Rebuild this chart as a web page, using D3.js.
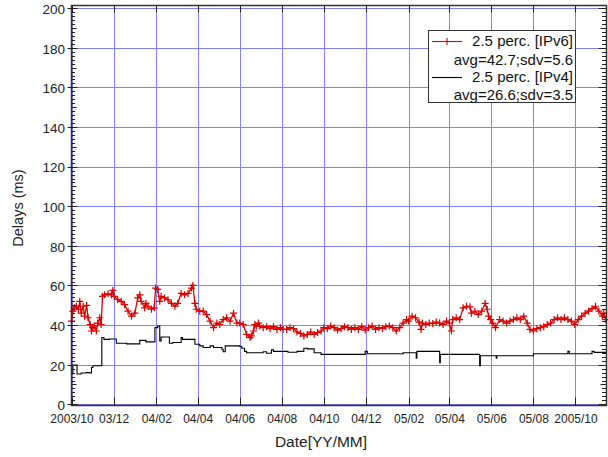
<!DOCTYPE html>
<html><head><meta charset="utf-8">
<script src="https://cdn.jsdelivr.net/npm/d3@7"></script>
<style>body{margin:0;background:#fff;}svg{display:block;font-family:"Liberation Sans",Arial,sans-serif;}</style>
</head><body>
<svg id="c" width="608" height="457"></svg>
<script>
// ---- data ----
const xTickLabels = ["2003/10","03/12","04/02","04/04","04/06","04/08","04/10","04/12","05/02","05/04","05/06","05/08","2005/10"];
const yTickValues = [0,20,40,60,80,100,120,140,160,180,200];
const legendLabels = ["2.5 perc. [IPv6]","avg=42.7;sdv=5.6","2.5 perc. [IPv4]","avg=26.6;sdv=3.5"];

const ipv6Dates = ["2003-10-01","2003-10-03","2003-10-05","2003-10-08","2003-10-11","2003-10-13","2003-10-15","2003-10-18","2003-10-20","2003-10-23","2003-10-25","2003-10-28","2003-10-30","2003-11-01","2003-11-03","2003-11-06","2003-11-08","2003-11-11","2003-11-13","2003-11-15","2003-11-18","2003-11-23","2003-11-28","2003-11-30","2003-12-02","2003-12-07","2003-12-12","2003-12-17","2003-12-22","2003-12-27","2004-01-01","2004-01-05","2004-01-08","2004-01-10","2004-01-15","2004-01-17","2004-01-20","2004-01-25","2004-01-29","2004-01-31","2004-02-03","2004-02-06","2004-02-08","2004-02-13","2004-02-18","2004-02-23","2004-02-28","2004-03-03","2004-03-08","2004-03-13","2004-03-18","2004-03-23","2004-03-25","2004-03-28","2004-03-30","2004-04-04","2004-04-09","2004-04-14","2004-04-19","2004-04-24","2004-04-29","2004-05-03","2004-05-08","2004-05-13","2004-05-18","2004-05-23","2004-05-28","2004-06-01","2004-06-06","2004-06-11","2004-06-16","2004-06-18","2004-06-21","2004-06-23","2004-06-25","2004-06-28","2004-06-30","2004-07-05","2004-07-10","2004-07-15","2004-07-20","2004-07-25","2004-07-30","2004-08-03","2004-08-08","2004-08-13","2004-08-18","2004-08-23","2004-08-28","2004-09-02","2004-09-07","2004-09-12","2004-09-17","2004-09-22","2004-09-27","2004-10-01","2004-10-06","2004-10-11","2004-10-16","2004-10-21","2004-10-26","2004-10-31","2004-11-05","2004-11-10","2004-11-15","2004-11-20","2004-11-25","2004-11-30","2004-12-05","2004-12-10","2004-12-15","2004-12-20","2004-12-25","2004-12-30","2005-01-04","2005-01-09","2005-01-14","2005-01-19","2005-01-24","2005-01-29","2005-02-01","2005-02-06","2005-02-11","2005-02-16","2005-02-19","2005-02-21","2005-02-26","2005-03-03","2005-03-08","2005-03-13","2005-03-18","2005-03-23","2005-03-28","2005-04-01","2005-04-04","2005-04-06","2005-04-11","2005-04-16","2005-04-21","2005-04-26","2005-05-01","2005-05-03","2005-05-08","2005-05-13","2005-05-18","2005-05-23","2005-05-26","2005-05-28","2005-05-31","2005-06-03","2005-06-07","2005-06-13","2005-06-18","2005-06-23","2005-06-28","2005-07-03","2005-07-08","2005-07-13","2005-07-18","2005-07-23","2005-07-27","2005-08-01","2005-08-06","2005-08-11","2005-08-16","2005-08-21","2005-08-26","2005-08-31","2005-09-05","2005-09-10","2005-09-15","2005-09-20","2005-09-25","2005-09-30","2005-10-05","2005-10-10","2005-10-15","2005-10-20","2005-10-25","2005-10-30","2005-11-04","2005-11-09","2005-11-11","2005-11-14"];
const ipv6Values = [42,47,48.7,49.5,48,52,46,49.5,44.5,50,43.7,40.3,37,38.7,39.5,37,41,43.7,40.3,54.5,55.3,55.8,55.3,57.5,54.5,52.8,52,50.3,47,44.5,46,53.7,55.3,52,48.7,51,49.5,48,48.7,58.7,58,52,54.5,53.7,52.8,51,49.5,51,56,55.3,56,58.7,60,51,48,47,47,45.3,42,38.7,41,40.3,42.8,43.7,42,46,41,41,40.3,35.3,33.7,34.5,37,40.3,39.5,41,39.5,38.7,39.2,38.2,39.2,37.8,38.7,37.8,37.8,38.7,38.2,36.5,35.8,34.5,35.3,36.5,35.3,36.2,37,38.7,38.2,39.5,38.7,37.5,38.2,39.2,38.7,37.8,38.7,37.8,39.2,37.5,38.7,39.5,37.8,38.7,38.2,39.2,39.5,38.7,37,38.7,41,42.8,42,44.5,43.7,41.5,37.8,41,40.3,41,40.8,41.5,41,40.3,42,41,37,42.8,43.7,42.8,48.7,49.5,49.2,46,47,45.3,47,51,48,44.5,42.8,41,38.7,42.8,42,41,42,42.8,43.7,42.8,44.5,41,37.8,37,38.2,38.7,39.2,40.3,41,42.8,43.7,42.8,43.7,42.8,42,40.3,42.8,44.5,46,47,48.3,49.5,47,44.5,46,42.8];

const ipv4Dates = ["2003-10-01","2003-10-03","2003-10-09","2003-10-15","2003-10-22","2003-10-27","2003-10-30","2003-11-01","2003-11-14","2003-11-17","2003-11-25","2003-12-05","2003-12-20","2004-01-08","2004-01-17","2004-01-30","2004-02-03","2004-02-06","2004-02-08","2004-02-20","2004-02-25","2004-03-08","2004-03-10","2004-03-28","2004-04-04","2004-04-09","2004-04-19","2004-04-24","2004-05-06","2004-05-08","2004-05-11","2004-06-01","2004-06-04","2004-06-08","2004-06-11","2004-07-05","2004-07-10","2004-07-17","2004-07-20","2004-08-10","2004-08-23","2004-09-02","2004-09-07","2004-09-17","2004-09-27","2004-11-30","2004-12-03","2005-01-24","2005-02-12","2005-02-13","2005-03-18","2005-03-19","2005-05-15","2005-05-16","2005-06-08","2005-06-09","2005-08-01","2005-09-20","2005-09-22","2005-10-25","2005-10-28","2005-11-15"];
const ipv4Values = [15.3,19.8,15.3,15.8,16,15.8,18.6,19.5,33.7,32.8,33,30.8,30.5,32.3,31.5,38.7,39.5,32,34,30.8,31.2,33.7,32.8,30.3,29.5,28.7,29.5,28.7,27.8,26.5,29.5,29.2,28.3,26.7,26,26.5,25.8,27.5,26.7,26.3,26.7,28.3,28,26,25.2,26.7,25.5,26,23.3,26.7,21,25.2,19.5,24.5,23.3,24.5,25.5,26.7,25.5,26.7,26.2,26.2];

// ---- chart ----
const parse = d3.timeParse("%Y-%m-%d");
const svg = d3.select("#c");
const L = 71.5, R = 606.5, T = 5.5, B = 405.5;
const start = new Date(2003, 9, 1);
const x = d3.scaleTime().domain([start, new Date(2005, 10, 15)]).range([L, R]);
const y = d3.scaleLinear().domain([0, 200]).range([404.3, 8.2]);
const xTicks = xTickLabels.map((_, i) => d3.timeMonth.offset(start, 2 * i));

// grid
const grid = svg.append("g").attr("stroke", "#8080ff").attr("stroke-width", 1);
grid.selectAll(".gx").data(xTicks).join("line")
  .attr("x1", d => Math.round(x(d)) + 0.5).attr("x2", d => Math.round(x(d)) + 0.5)
  .attr("y1", T).attr("y2", B);
grid.selectAll(".gy").data(yTickValues).join("line")
  .attr("x1", L).attr("x2", R)
  .attr("y1", d => Math.round(y(d)) + 0.5).attr("y2", d => Math.round(y(d)) + 0.5);

// data lines
const v4 = ipv4Dates.map((d, i) => ({ d: parse(d), v: ipv4Values[i] }));
const v6 = ipv6Dates.map((d, i) => ({ d: parse(d), v: ipv6Values[i] }));
svg.append("path").datum(v4)
  .attr("fill", "none").attr("stroke", "#000").attr("stroke-width", 1.1)
  .attr("d", d3.line().x(p => x(p.d)).y(p => y(p.v)).curve(d3.curveStepAfter));
svg.append("path").datum(v6)
  .attr("fill", "none").attr("stroke", "#dd0000").attr("stroke-width", 1.3)
  .attr("d", d3.line().x(p => x(p.d)).y(p => y(p.v)));
svg.append("g").attr("stroke", "#dd0000").attr("stroke-width", 1.2)
  .selectAll("path").data(v6).join("path")
  .attr("d", p => { const cx = x(p.d), cy = y(p.v), s = 3.5; return `M${cx - s},${cy}H${cx + s}M${cx},${cy - s}V${cy + s}`; });

// frame
svg.append("rect").attr("x", L).attr("y", T).attr("width", R - L).attr("height", B - T)
  .attr("fill", "none").attr("stroke", "#333").attr("stroke-width", 1.5);

// y minor/major ticks left & right
const yMinor = d3.range(0, 201, 2);
const tk = svg.append("g").attr("stroke", "#222").attr("stroke-width", 1);
tk.selectAll(".yl").data(yMinor).join("line")
  .attr("x1", d => d % 20 === 0 ? L - 4 : L).attr("x2", d => d % 20 === 0 ? L + 6 : (d % 10 === 0 ? L + 5 : L + 3.5))
  .attr("y1", d => Math.round(y(d)) + 0.5).attr("y2", d => Math.round(y(d)) + 0.5);
tk.selectAll(".yr").data(yMinor).join("line")
  .attr("x1", R).attr("x2", d => d % 20 === 0 ? R - 8 : (d % 10 === 0 ? R - 6 : R - 4.5))
  .attr("y1", d => Math.round(y(d)) + 0.5).attr("y2", d => Math.round(y(d)) + 0.5);
// x ticks top & bottom
tk.selectAll(".xt").data(xTicks).join("line")
  .attr("x1", d => Math.round(x(d)) + 0.5).attr("x2", d => Math.round(x(d)) + 0.5)
  .attr("y1", T).attr("y2", T + 7);
tk.selectAll(".xb").data(xTicks).join("line")
  .attr("x1", d => Math.round(x(d)) + 0.5).attr("x2", d => Math.round(x(d)) + 0.5)
  .attr("y1", B).attr("y2", B - 8);

// axis labels via d3 axes
const yAx = svg.append("g").attr("transform", `translate(${L},1)`)
  .call(d3.axisLeft(y).tickValues(yTickValues).tickSize(0).tickPadding(6.5));
yAx.select(".domain").remove();
yAx.selectAll("text").attr("font-size", 13.5).attr("fill", "#222").attr("font-family", "Liberation Sans, Arial, sans-serif");

const xAx = svg.append("g").attr("transform", `translate(0,${B})`)
  .call(d3.axisBottom(x).tickValues(xTicks).tickFormat((d, i) => xTickLabels[i]).tickSize(0).tickPadding(9));
xAx.select(".domain").remove();
xAx.selectAll("text").attr("font-size", 12).attr("fill", "#222").attr("font-family", "Liberation Sans, Arial, sans-serif");

svg.append("text").attr("transform", "translate(23,208) rotate(-90)")
  .attr("text-anchor", "middle").attr("font-size", 14.5).attr("fill", "#222").text("Delays (ms)");
svg.append("text").attr("x", 321).attr("y", 447)
  .attr("text-anchor", "middle").attr("font-size", 15.5).attr("fill", "#222").text("Date[YY/MM]");

// legend
const lg = svg.append("g");
lg.append("rect").attr("x", 428.5).attr("y", 30.5).attr("width", 147).attr("height", 72)
  .attr("fill", "#fff").attr("stroke", "#333").attr("stroke-width", 1);
lg.append("line").attr("x1", 432).attr("x2", 462).attr("y1", 41.5).attr("y2", 41.5).attr("stroke", "#dd0000").attr("stroke-width", 1.1);
lg.append("path").attr("d", "M443.5,41.5H450.5M447,38V45").attr("stroke", "#dd0000").attr("stroke-width", 1.1);
lg.append("line").attr("x1", 432).attr("x2", 462).attr("y1", 77.5).attr("y2", 77.5).attr("stroke", "#000").attr("stroke-width", 1.1);
const ly = [46, 64.5, 82, 100];
lg.selectAll("text").data(legendLabels).join("text")
  .attr("x", 573).attr("y", (d, i) => ly[i]).attr("text-anchor", "end")
  .attr("font-size", 15).attr("fill", "#111").text(d => d);
</script>
</body></html>
